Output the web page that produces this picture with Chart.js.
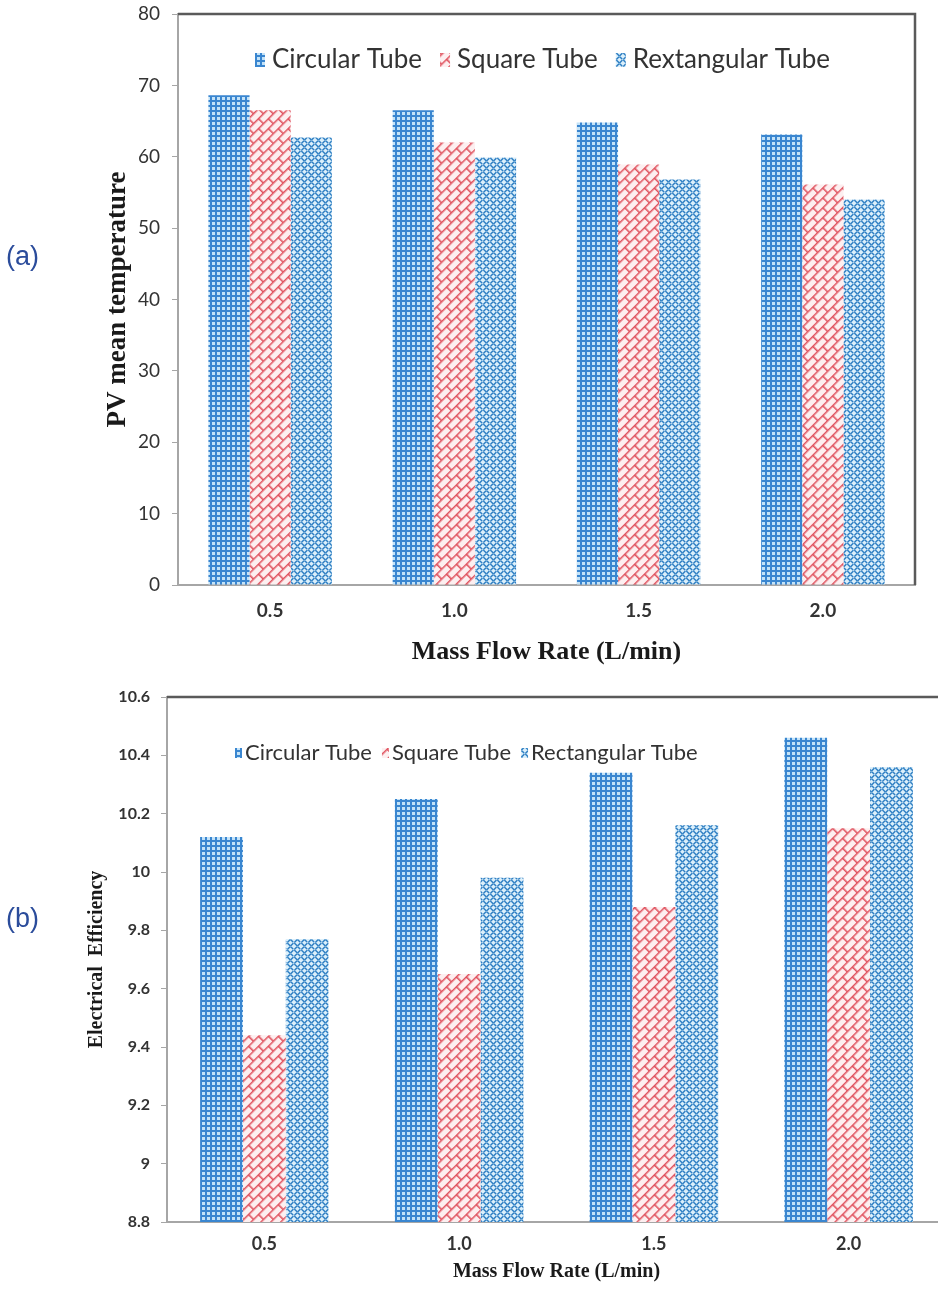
<!DOCTYPE html>
<html>
<head>
<meta charset="utf-8">
<script src="https://cdn.jsdelivr.net/npm/chart.js@4/dist/chart.umd.min.js"></script>
<style>
  body { margin: 0; width: 938px; height: 1293px; overflow: hidden; background: #fff; position: relative; }
  .panel { position: absolute; left: 0; }
  .tag { position: absolute; left: 6px; font: 27px 'Liberation Sans', Arial, sans-serif; color: #2b4c9b; line-height: 32px; }
</style>
</head>
<body>
<div class="panel" style="top:0"><canvas id="chartA" width="938" height="670"></canvas></div>
<div class="panel" style="top:680px"><canvas id="chartB" width="950" height="613"></canvas></div>
<div class="tag" style="top:240px">(a)</div>
<div class="tag" style="top:902px">(b)</div>
<script>
const flowRates = ['0.5', '1.0', '1.5', '2.0'];

// (a) PV mean temperature
const tempCircular = [68.6, 66.5, 64.8, 63.1];
const tempSquare = [66.5, 62.0, 58.9, 56.1];
const tempRect = [62.7, 59.9, 56.8, 54.0];

// (b) electrical efficiency
const effCircular = [10.12, 10.25, 10.34, 10.46];
const effSquare = [9.44, 9.65, 9.88, 10.15];
const effRect = [9.77, 9.98, 10.16, 10.36];

const makePattern = (size, draw, angle) => {
  const c = document.createElement('canvas');
  c.width = size;
  c.height = size;
  const g = c.getContext('2d');
  draw(g, size);
  const p = g.createPattern(c, 'repeat');
  if (angle) p.setTransform(new DOMMatrix().rotateSelf(angle));
  return p;
};

// blue grid
const circularFill = makePattern(5, (g) => {
  g.fillStyle = '#c4e3f8';
  g.fillRect(0, 0, 5, 5);
  g.fillStyle = '#3a86d0';
  g.fillRect(0, 0, 5, 2);
  g.fillRect(0, 0, 2, 5);
});

// red bricks, turned on the diagonal
const squareFill = makePattern(14, (g) => {
  g.fillStyle = '#fdeff0';
  g.fillRect(0, 0, 14, 14);
  g.strokeStyle = '#e0535f';
  g.lineWidth = 1.6;
  g.beginPath();
  g.moveTo(0, 0.8); g.lineTo(14, 0.8);
  g.moveTo(0, 7.8); g.lineTo(14, 7.8);
  g.moveTo(0.8, 0); g.lineTo(0.8, 7.8);
  g.moveTo(7.8, 7.8); g.lineTo(7.8, 14);
  g.stroke();
}, -45);

// blue squiggles
const rectFill = makePattern(7, (g) => {
  g.fillStyle = '#dcf0fb';
  g.fillRect(0, 0, 7, 7);
  g.strokeStyle = '#2f7fc3';
  g.lineWidth = 1.5;
  g.lineCap = 'round';
  g.beginPath();
  g.moveTo(0.8, 3); g.lineTo(2.8, 1);
  g.moveTo(4, 6.5); g.lineTo(6, 4.5);
  g.moveTo(4, 1); g.lineTo(5.8, 2.8);
  g.moveTo(0.8, 4.5); g.lineTo(2.6, 6.3);
  g.stroke();
});

const innerLegend = {
  id: 'innerLegend',
  afterDatasetsDraw(chart, args, opts) {
    const { ctx, chartArea } = chart;
    ctx.save();
    ctx.font = opts.font;
    ctx.textBaseline = 'middle';
    let x = chartArea.left + opts.left;
    const y = chartArea.top + opts.top;
    chart.data.datasets.forEach((ds) => {
      ctx.fillStyle = ds.backgroundColor;
      ctx.fillRect(x, y - opts.boxH / 2, opts.boxW, opts.boxH);
      x += opts.boxW + opts.gap;
      ctx.fillStyle = opts.color;
      ctx.fillText(ds.label, x, y);
      x += ctx.measureText(ds.label).width + opts.spacing;
    });
    ctx.restore();
  }
};

const frame = {
  id: 'frame',
  afterDraw(chart, args, opts) {
    const { ctx, chartArea } = chart;
    ctx.save();
    ctx.strokeStyle = opts.color;
    ctx.lineWidth = opts.width;
    ctx.beginPath();
    ctx.moveTo(chartArea.left, chartArea.top);
    ctx.lineTo(chartArea.right, chartArea.top);
    ctx.lineTo(chartArea.right, chartArea.bottom);
    ctx.stroke();
    ctx.restore();
  }
};

const axisGrey = '#a6a6a6';
const textDark = '#333';
const serifBold = (size) => ({ family: "'Liberation Serif', 'Times New Roman', serif", size: size, weight: 'bold' });

const buildChart = (id, cfg) => new Chart(document.getElementById(id), {
  type: 'bar',
  data: {
    labels: flowRates,
    datasets: [
      { label: cfg.names[0], data: cfg.series[0], backgroundColor: circularFill },
      { label: cfg.names[1], data: cfg.series[1], backgroundColor: squareFill },
      { label: cfg.names[2], data: cfg.series[2], backgroundColor: rectFill },
    ],
  },
  options: {
    responsive: false,
    animation: false,
    layout: { padding: cfg.padding },
    datasets: { bar: { categoryPercentage: cfg.groupWidth, barPercentage: 1.0 } },
    scales: {
      x: {
        grid: { drawOnChartArea: false, drawTicks: false },
        border: { color: axisGrey, width: 2 },
        ticks: { color: textDark, padding: cfg.xTickPad, font: { family: 'Lato', size: cfg.xTickSize, weight: 'bold' } },
        title: { display: true, text: 'Mass Flow Rate (L/min)', color: '#1a1a1a', font: serifBold(cfg.xTitleSize), padding: { top: 0, bottom: cfg.xTitlePad } },
        afterFit: (s) => { s.height = cfg.xAxisHeight; },
      },
      y: {
        min: cfg.yMin,
        max: cfg.yMax,
        grid: { drawOnChartArea: false, drawTicks: true, tickLength: 6, color: axisGrey },
        border: { color: axisGrey, width: 2 },
        ticks: {
          stepSize: cfg.yStep,
          color: textDark,
          padding: cfg.yTickPad,
          font: { family: 'Lato', size: cfg.yTickSize, weight: cfg.yTickWeight },
          callback: (v) => String(Math.round(v * 10) / 10),
        },
        title: { display: true, text: cfg.yTitle, color: '#1a1a1a', font: serifBold(cfg.yTitleSize), padding: { top: cfg.yTitlePad, bottom: 0 } },
        afterFit: (s) => {
          s.width = cfg.yAxisWidth;
          s.paddingTop = 0;
          s.paddingBottom = 0;
        },
      },
    },
    plugins: {
      legend: { display: false },
      tooltip: { enabled: false },
      innerLegend: cfg.legend,
      frame: { color: '#5a5a5a', width: 2.5 },
    },
  },
  plugins: [innerLegend, frame],
});

buildChart('chartA', {
  names: ['Circular Tube', 'Square Tube', 'Rextangular Tube'],
  series: [tempCircular, tempSquare, tempRect],
  padding: { top: 14, right: 23, left: 0, bottom: 0 },
  groupWidth: 0.67,
  yMin: 0, yMax: 80, yStep: 10,
  yTickSize: 19, yTickWeight: 'normal', yTickPad: 12,
  yTitle: 'PV mean temperature', yTitleSize: 27, yTitlePad: 102,
  yAxisWidth: 178,
  xTickSize: 19, xTickPad: 14,
  xTitleSize: 26, xTitlePad: 2,
  xAxisHeight: 85,
  legend: { font: "26px Lato", color: textDark, left: 77, top: 46, boxW: 10, boxH: 14, gap: 7, spacing: 18 },
});

buildChart('chartB', {
  names: ['Circular Tube', 'Square Tube', 'Rectangular Tube'],
  series: [effCircular, effSquare, effRect],
  padding: { top: 17, right: 4, left: 0, bottom: 0 },
  groupWidth: 0.66,
  yMin: 8.8, yMax: 10.6, yStep: 0.2,
  yTickSize: 16, yTickWeight: 'bold', yTickPad: 11,
  yTitle: 'Electrical  Efficiency', yTitleSize: 20, yTitlePad: 85,
  yAxisWidth: 167,
  xTickSize: 18, xTickPad: 11,
  xTitleSize: 20, xTitlePad: 9,
  xAxisHeight: 71,
  legend: { font: "22px Lato", color: textDark, left: 68, top: 56, boxW: 7, boxH: 10, gap: 3, spacing: 10 },
});
</script>
</body>
</html>
